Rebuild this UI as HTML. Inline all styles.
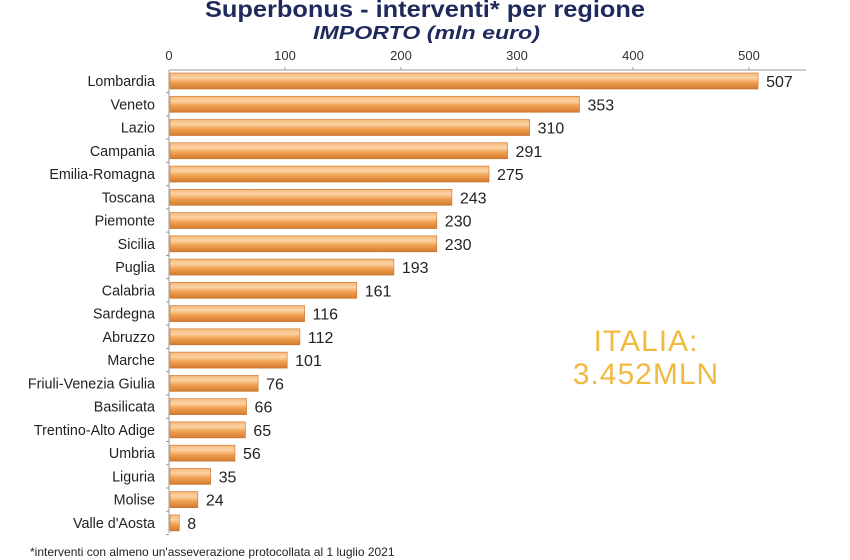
<!DOCTYPE html>
<html><head><meta charset="utf-8"><style>
html,body{margin:0;padding:0;background:#fff;}
svg{display:block;font-family:"Liberation Sans",sans-serif;}
</style></head><body>
<svg width="850" height="560" viewBox="0 0 850 560" xmlns="http://www.w3.org/2000/svg">
<defs>
<linearGradient id="g" x1="0" y1="0" x2="0" y2="1">
<stop offset="0" stop-color="#f6b878"/>
<stop offset="0.3" stop-color="#fbd3a6"/>
<stop offset="0.6" stop-color="#f0a050"/>
<stop offset="1" stop-color="#d27c30"/>
</linearGradient>
</defs>
<text x="205" y="17" textLength="440" lengthAdjust="spacingAndGlyphs" font-size="23" font-weight="bold" fill="#1f2a5c">Superbonus - interventi* per regione</text>
<text x="313" y="39" textLength="227" lengthAdjust="spacingAndGlyphs" font-size="18" font-weight="bold" font-style="italic" fill="#1f2a5c">IMPORTO  (mln euro)</text>
<g font-size="13" fill="#333" text-anchor="middle">
<text x="169" y="60">0</text><text x="285" y="60">100</text><text x="401" y="60">200</text><text x="517" y="60">300</text><text x="633" y="60">400</text><text x="749" y="60">500</text>
</g>
<line x1="169" y1="70" x2="806" y2="70" stroke="#999" stroke-width="1"/>
<g stroke="#999"><line x1="285" y1="67" x2="285" y2="70"/><line x1="401" y1="67" x2="401" y2="70"/><line x1="517" y1="67" x2="517" y2="70"/><line x1="633" y1="67" x2="633" y2="70"/><line x1="749" y1="67" x2="749" y2="70"/></g>
<line x1="169" y1="70" x2="169" y2="533" stroke="#999" stroke-width="1"/>
<g id="bars"></g>
<text x="646" y="351" text-anchor="middle" font-size="30" fill="#f2b940" letter-spacing="1">ITALIA:</text>
<text x="646" y="384" text-anchor="middle" font-size="30" fill="#f2b940" letter-spacing="1">3.452MLN</text>
<text x="30" y="556" font-size="12" fill="#222">*interventi con almeno un'asseverazione protocollata al 1 luglio 2021</text>
</svg>
<script>
var d=[["Lombardia",507],["Veneto",353],["Lazio",310],["Campania",291],["Emilia-Romagna",275],["Toscana",243],["Piemonte",230],["Sicilia",230],["Puglia",193],["Calabria",161],["Sardegna",116],["Abruzzo",112],["Marche",101],["Friuli-Venezia Giulia",76],["Basilicata",66],["Trentino-Alto Adige",65],["Umbria",56],["Liguria",35],["Molise",24],["Valle d'Aosta",8]];
var s="";
d.forEach(function(r,i){var c=81+i*23.26,w=r[1]*1.16;
s+='<rect x="170" y="'+(c-8)+'" width="'+w+'" height="16" fill="url(#g)" stroke="#c87028" stroke-width="0.6"/>';
s+='<text x="155" y="'+(c+5)+'" text-anchor="end" font-size="14.3" fill="#222">'+r[0].replace("'","&#39;")+'</text>';
s+='<text x="'+(170+w+8)+'" y="'+(c+6)+'" font-size="16" fill="#222">'+r[1]+'</text>';
s+='<line x1="166" y1="'+(c+11.6)+'" x2="169" y2="'+(c+11.6)+'" stroke="#999"/>';});
document.getElementById("bars").innerHTML=s;
</script>
</body></html>
